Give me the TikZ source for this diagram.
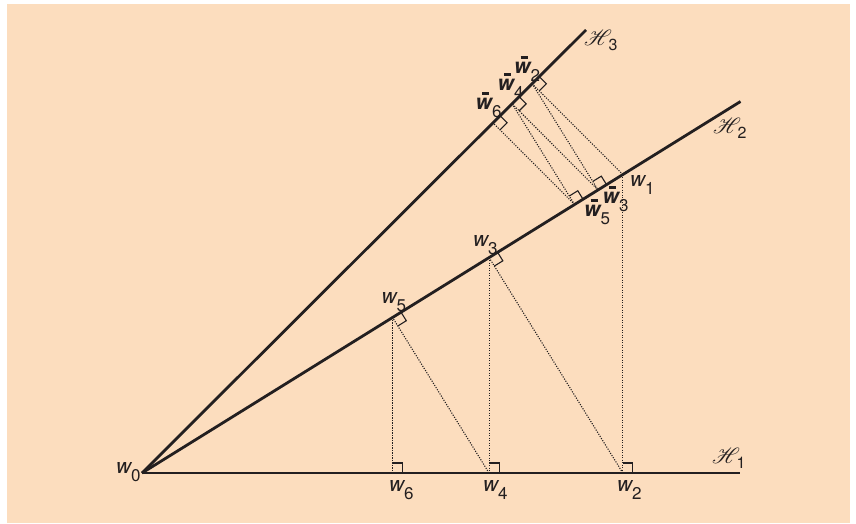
\documentclass[tikz,border=0pt]{standalone}
\usepackage{fontspec}
\setmainfont{TeX Gyre Heros}
\usepackage{mathrsfs}
\usetikzlibrary{calc}
\definecolor{bg}{RGB}{252,221,190}
\definecolor{ink}{RGB}{35,31,32}
\newcommand\sbs[1]{\kern-1.2pt\raisebox{-0.4em}{\fontsize{17}{17}\selectfont #1}}
\newcommand\wl[1]{\textit{w}\sbs{#1}}
\newcommand\bwl[1]{\makebox[0pt][l]{\hspace{0.3em}\rule[1.3ex]{0.34em}{0.25ex}}\textbf{\textit{w}}\sbs{#1}}
\newcommand\hl[1]{\scalebox{2.2}{\fontsize{10}{10}\selectfont$\mathscr{H}$}\kern-3.5pt\raisebox{-0.25em}{\fontsize{16}{16}\selectfont #1}}
\newcommand\ramark[3]{%
  \coordinate (ra1) at ($(#1)!10pt!(#2)$);
  \coordinate (ra2) at ($(#1)!10pt!(#3)$);
  \draw[ramk] (ra1) -- ($(ra1)+(ra2)-(#1)$) -- (ra2);}
\begin{document}
\begin{tikzpicture}[x=1pt,y=-1pt,
  axis/.style={line width=2.8pt, draw=ink},
  proj/.style={line width=1.1pt, draw=ink, dash pattern=on 1.1pt off 1.4pt},
  ramk/.style={line width=1.1pt, draw=ink},
  lbl/.style={inner sep=0pt, anchor=base west, text=ink, font=\fontsize{21}{21}\selectfont}]
\fill[white] (0,0) rectangle (856,523);
\fill[bg] (7,4) rectangle (850,523);
\useasboundingbox (0,0) rectangle (856,523);
% geometry
\coordinate (w0) at (142,473);
\coordinate (h1e) at (740,473);
\coordinate (h2e) at (740.5,101.5);
\coordinate (h3e) at (586,30);
\coordinate (w1) at ($(w0)!0.8034!(h2e)$);
\coordinate (w2) at (w1 |- w0);
\coordinate (w3) at ($(w0)!(w2)!(h2e)$);
\coordinate (w4) at (w3 |- w0);
\coordinate (w5) at ($(w0)!(w4)!(h2e)$);
\coordinate (w6) at (w5 |- w0);
\coordinate (bw2) at ($(w0)!(w1)!(h3e)$);
\coordinate (bw3) at ($(w0)!(bw2)!(h2e)$);
\coordinate (bw4) at ($(w0)!(bw3)!(h3e)$);
\coordinate (bw5) at ($(w0)!(bw4)!(h2e)$);
\coordinate (bw6) at ($(w0)!(bw5)!(h3e)$);
% projections
\draw[proj] (w1) -- (w2);
\draw[proj] (w2) -- (w3);
\draw[proj] (w3) -- (w4);
\draw[proj] (w4) -- (w5);
\draw[proj] (w5) -- (w6);
\draw[proj] (w1) -- (bw2);
\draw[proj] (bw2) -- (bw3);
\draw[proj] (bw3) -- (bw4);
\draw[proj] (bw4) -- (bw5);
\draw[proj] (bw5) -- (bw6);
% right angle marks
\ramark{w2}{h1e}{w1}
\ramark{w4}{h1e}{w3}
\ramark{w6}{h1e}{w5}
\ramark{w3}{h2e}{w2}
\ramark{w5}{h2e}{w4}
\ramark{bw3}{h2e}{bw2}
\ramark{bw5}{h2e}{bw4}
\ramark{bw2}{h3e}{w1}
\ramark{bw4}{h3e}{bw3}
\ramark{bw6}{h3e}{bw5}
% axes
\draw[axis] (w0) -- (h1e);
\draw[axis] (w0) -- (h2e);
\draw[axis] (w0) -- (h3e);
% labels
\node[lbl] (lw0) at (116,473) {\wl{0}};
\node[lbl] (lw6) at (389,491) {\wl{6}};
\node[lbl] (lw4) at (483,491) {\wl{4}};
\node[lbl] (lw2) at (617,491) {\wl{2}};
\node[lbl] (lw5) at (381.5,303) {\wl{5}};
\node[lbl] (lw3) at (473,246) {\wl{3}};
\node[lbl] (lw1) at (630,186.5) {\wl{1}};
\node[lbl] (lbw2) at (514,73) {\bwl{2}};
\node[lbl] (lbw4) at (497.5,90) {\bwl{4}};
\node[lbl] (lbw6) at (475.5,109) {\bwl{6}};
\node[lbl] (lbw3) at (602.5,203) {\bwl{3}};
\node[lbl] (lbw5) at (584,216.5) {\bwl{5}};
\node[lbl] (lh3) at (584,45) {\hl{3}};
\node[lbl] (lh2) at (713,133) {\hl{2}};
\node[lbl] (lh1) at (712,463) {\hl{1}};
\end{tikzpicture}
\end{document}
